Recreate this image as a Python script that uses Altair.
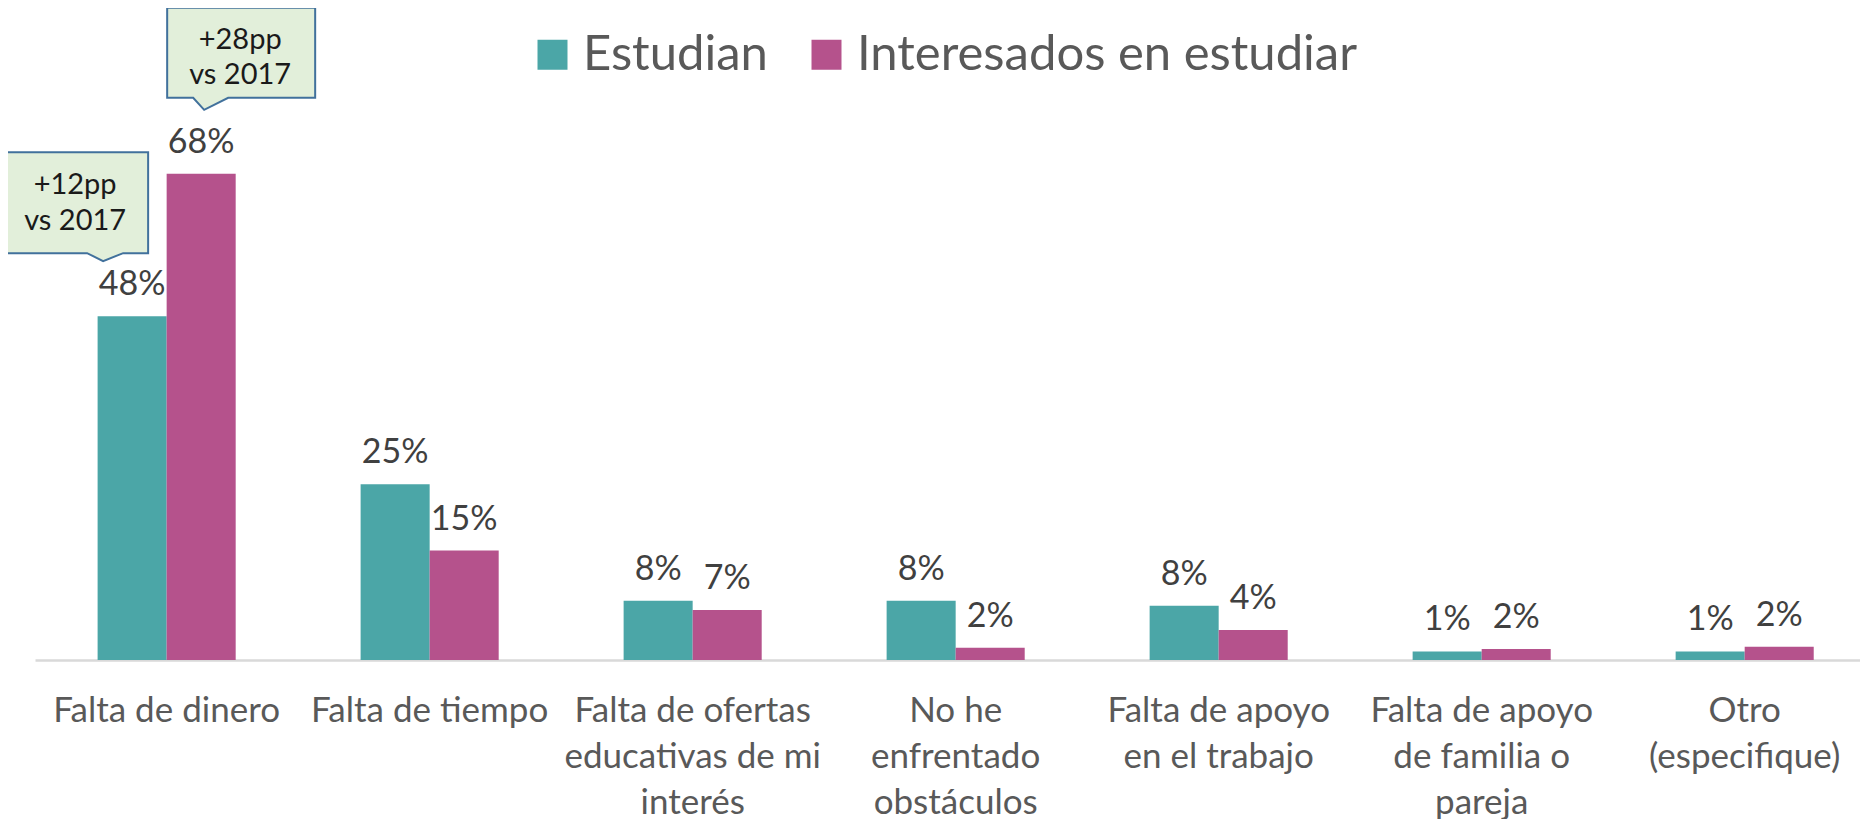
import json
import altair as alt
import pandas as pd

# ---------------- data ----------------
categories = [
    "Falta de dinero",
    "Falta de tiempo",
    "Falta de ofertas educativas de mi interés",
    "No he enfrentado obstáculos",
    "Falta de apoyo en el trabajo",
    "Falta de apoyo de familia o pareja",
    "Otro (especifique)",
]
category_lines = [
    ["Falta de dinero"],
    ["Falta de tiempo"],
    ["Falta de ofertas", "educativas de mi", "interés"],
    ["No he", "enfrentado", "obstáculos"],
    ["Falta de apoyo", "en el trabajo"],
    ["Falta de apoyo", "de familia o", "pareja"],
    ["Otro", "(especifique)"],
]
series = ["Estudian", "Interesados en estudiar"]
estudian = [48.1, 24.6, 8.3, 8.3, 7.6, 1.2, 1.2]
interesados = [68.0, 15.3, 7.0, 1.7, 4.2, 1.55, 1.85]

callout_category = ["Falta de dinero", "Falta de dinero"]
callout_series = ["Estudian", "Interesados en estudiar"]
callout_text = ["+12pp\nvs 2017", "+28pp\nvs 2017"]

# ---------------- style ----------------
colors = ["#4ba6a7", "#b5528c"]
FONT = "Lato"
callout_paths = [
    "M -1.27 -1.64 L 0.16 -1.64 L 0.16 -0.63 L -0.09 -0.63 L -0.29 -0.55 L -0.45 -0.63 L -1.27 -0.63 Z",
    "M -0.34 -1.66 L 1.14 -1.66 L 1.14 -0.76 L 0.27 -0.76 L 0.03 -0.64 L -0.08 -0.76 L -0.34 -0.76 Z",
]
callout_dx = [-57, 39]
callout_dy = [-131, -134]
callout_lh = [36, 35]

rows = []
for c, a, b in zip(categories, estudian, interesados):
    rows.append({"category": c, "series": series[0], "value": a})
    rows.append({"category": c, "series": series[1], "value": b})
df = pd.DataFrame(rows)

vals = {(r["category"], r["series"]): r["value"] for r in rows}
cdf = pd.DataFrame({
    "category": callout_category,
    "series": callout_series,
    "value": [vals[(c, s)] for c, s in zip(callout_category, callout_series)],
    "text": callout_text,
    "key": ["c%d" % i for i in range(len(callout_text))],
})

label_expr = "%s[indexof(%s, datum.label)]" % (
    json.dumps(category_lines, ensure_ascii=False),
    json.dumps(categories, ensure_ascii=False),
)

x_enc = alt.X(
    "category:N",
    sort=categories,
    scale=alt.Scale(domain=categories, paddingInner=0.475, paddingOuter=0.207, align=0.575),
    axis=alt.Axis(
        title=None, ticks=False, labelAngle=0, labelExpr=label_expr,
        labelFont=FONT, labelFontSize=35, labelColor="#595959",
        labelLineHeight=46, labelPadding=33, labelLimit=0,
        domainColor="#d9d9d9", domainWidth=2.5, grid=False,
    ),
)
xo_enc = alt.XOffset("series:N", scale=alt.Scale(domain=series))
y_enc = alt.Y("value:Q", scale=alt.Scale(domain=[0, 91.2]), axis=None)

bars = alt.Chart(df).mark_bar().encode(
    x=x_enc,
    xOffset=xo_enc,
    y=y_enc,
    color=alt.Color(
        "series:N",
        scale=alt.Scale(domain=series, range=colors),
        legend=alt.Legend(
            title=None, orient="none", direction="horizontal",
            legendX=493, legendY=22, symbolType="square", symbolSize=900,
            symbolStrokeWidth=0, labelFont=FONT, labelFontSize=49,
            labelColor="#595959", labelOffset=6, columnPadding=34, padding=0,
            labelLimit=0,
        ),
    ),
)

labels = alt.Chart(df).transform_calculate(
    lab="format(datum.value, '.0f') + '%'"
).mark_text(
    font=FONT, fontSize=34, color="#404040", baseline="middle", dy=-31
).encode(x=x_enc, xOffset=xo_enc, y=y_enc, text="lab:N")

boxes = alt.Chart(cdf).mark_point(
    filled=True, fill="#e2efda", stroke="#41719c", strokeWidth=2,
    size=40000, opacity=1, fillOpacity=1,
).encode(
    x=x_enc, xOffset=xo_enc, y=y_enc,
    shape=alt.Shape("key:N", scale=alt.Scale(domain=list(cdf["key"]), range=callout_paths), legend=None),
)

layers = [bars, labels, boxes]
for i, k in enumerate(cdf["key"]):
    layers.append(
        alt.Chart(cdf).transform_filter(alt.datum.key == k).mark_text(
            font=FONT, fontSize=29, color="#1a1a1a", baseline="middle",
            lineBreak="\n", lineHeight=callout_lh[i], dx=callout_dx[i], dy=callout_dy[i],
        ).encode(x=x_enc, xOffset=xo_enc, y=y_enc, text="text:N")
    )

chart = alt.layer(*layers).properties(
    width=1825, height=652,
    padding={"left": 27, "top": 0, "right": 0, "bottom": 160},
    autosize=alt.AutoSizeParams(type="none"),
    background="white",
).configure(font=FONT).configure_view(stroke="transparent", strokeWidth=0)

chart.save("out.html", embed_options={"renderer": "svg", "actions": False})
